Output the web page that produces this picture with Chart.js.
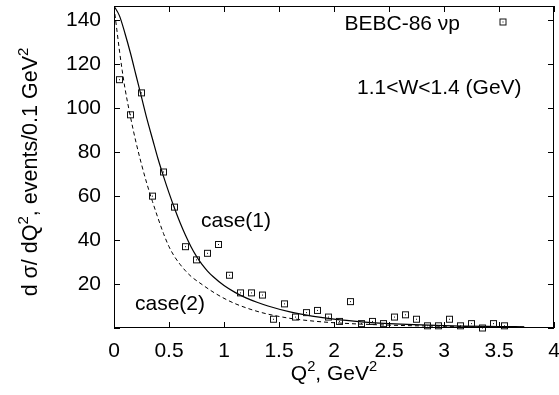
<!DOCTYPE html>
<html>
<head>
<meta charset="utf-8">
<script src="https://cdn.jsdelivr.net/npm/chart.js@4.4.1/dist/chart.umd.min.js"></script>
<style>
  html, body { margin: 0; padding: 0; background: #fff; }
  #wrap { width: 559px; height: 395px; }
</style>
</head>
<body>
<div id="wrap"><canvas id="chart" width="559" height="395"></canvas></div>
<script>
// BEBC-86 data, events per 0.1 GeV^2 bin (bin centres)
const q2Bins = [0.05, 0.15, 0.25, 0.35, 0.45, 0.55, 0.65, 0.75, 0.85, 0.95,
                1.05, 1.15, 1.25, 1.35, 1.45, 1.55, 1.65, 1.75, 1.85, 1.95,
                2.05, 2.15, 2.25, 2.35, 2.45, 2.55, 2.65, 2.75, 2.85, 2.95,
                3.05, 3.15, 3.25, 3.35, 3.45, 3.55];
const events = [113, 97, 107, 60, 71, 55, 37, 31, 34, 38,
                24, 16, 16, 15, 4, 11, 5, 7, 8, 5,
                3, 12, 2, 3, 2, 5, 6, 4, 1, 1,
                4, 1, 2, 0, 2, 1];

// model curves
const case1Q2 = [0, 0.05, 0.1, 0.15, 0.2, 0.25, 0.3, 0.35, 0.4, 0.45, 0.5, 0.55, 0.6, 0.65, 0.7, 0.75,
                 0.8, 0.85, 0.9, 1.0, 1.1, 1.2, 1.3, 1.4, 1.6, 1.8, 2.0, 2.25, 2.5, 3.0, 3.5, 3.73];
const case1 = [146.5, 142, 134, 125, 115, 105, 95, 86, 77, 69, 61.5, 54.5, 48, 42.2, 37, 32.6,
               28.9, 25.9, 23.4, 19.3, 16.2, 13.7, 11.7, 10, 7.3, 5.4, 4, 2.8, 2, 1.1, 0.68, 0.55];
const case2Q2 = [0, 0.025, 0.05, 0.075, 0.1, 0.15, 0.2, 0.25, 0.3, 0.35, 0.4, 0.45, 0.5, 0.55, 0.6,
                 0.65, 0.7, 0.8, 0.9, 1.0, 1.1, 1.2, 1.3, 1.4, 1.6, 1.8, 2.0, 2.5, 3.0, 3.5, 3.73];
const case2 = [146, 136, 126, 117, 109, 96, 84.5, 74.5, 65.5, 57.5, 50, 43, 37, 32.5, 29,
               26, 23.5, 19.8, 16.4, 13.5, 11.1, 9.2, 7.6, 6.3, 4.4, 3.2, 2.4, 1.3, 0.8, 0.5, 0.4];

const xTicks = [0, 0.5, 1, 1.5, 2, 2.5, 3, 3.5, 4];
const xTickLabels = ['0', '0.5', '1', '1.5', '2', '2.5', '3', '3.5', '4'];
const yTicks = [0, 20, 40, 60, 80, 100, 120, 140];
const yTickLabels = ['', '20', '40', '60', '80', '100', '120', '140'];

const FONT = "'Liberation Sans', Arial, Helvetica, sans-serif";

// little square with a dot, like the gnuplot points
function boxDot() {
  const c = document.createElement('canvas');
  c.width = 9; c.height = 9;
  const g = c.getContext('2d');
  g.strokeStyle = '#111';
  g.lineWidth = 1;
  g.strokeRect(1.5, 1.5, 6, 6);
  g.fillStyle = '#111';
  g.fillRect(4, 4, 1, 1);
  return c;
}
const marker = boxDot();

function pairs(xs, ys) {
  return xs.map((v, i) => ({ x: v, y: ys[i] }));
}

// text with superscript parts: [['Q'], ['2', true], ...]
function partsWidth(ctx, parts, size) {
  let w = 0;
  parts.forEach(p => {
    ctx.font = (p[1] ? size * 0.7 : size) + 'px ' + FONT;
    w += ctx.measureText(p[0]).width;
  });
  return w;
}
function drawParts(ctx, parts, x, y, size) {
  ctx.textAlign = 'left';
  ctx.textBaseline = 'alphabetic';
  parts.forEach(p => {
    ctx.font = (p[1] ? size * 0.7 : size) + 'px ' + FONT;
    ctx.fillText(p[0], x, p[1] ? y - size * 0.42 : y);
    x += ctx.measureText(p[0]).width;
  });
}

const framePlugin = {
  id: 'frame',
  afterDraw(chart) {
    const { ctx, chartArea: a, scales: { x, y } } = chart;
    ctx.save();
    ctx.strokeStyle = '#000';
    ctx.lineWidth = 1;
    ctx.strokeRect(a.left + 0.5, a.top + 0.5, a.right - a.left - 1, a.bottom - a.top - 1);
    ctx.beginPath();
    const tl = 6;
    xTicks.forEach(v => {
      const px = Math.round(x.getPixelForValue(v)) + 0.5;
      ctx.moveTo(px, a.bottom); ctx.lineTo(px, a.bottom - tl);
      ctx.moveTo(px, a.top); ctx.lineTo(px, a.top + tl);
    });
    yTicks.forEach(v => {
      const py = Math.round(y.getPixelForValue(v)) + 0.5;
      ctx.moveTo(a.left, py); ctx.lineTo(a.left + tl, py);
      ctx.moveTo(a.right, py); ctx.lineTo(a.right - tl, py);
    });
    ctx.stroke();

    ctx.fillStyle = '#000';
    const size = 21;
    // x title
    const xt = [['Q'], ['2', true], [', GeV'], ['2', true]];
    const cx = (a.left + a.right) / 2;
    drawParts(ctx, xt, cx - partsWidth(ctx, xt, size) / 2, 380, size);
    // y title
    const yt = [['d \u03c3/ dQ'], ['2', true], [', events/0.1 GeV'], ['2', true]];
    ctx.save();
    ctx.translate(37, 172);
    ctx.rotate(-Math.PI / 2);
    drawParts(ctx, yt, -partsWidth(ctx, yt, 21.5) / 2, 0, 21.5);
    ctx.restore();

    // key and notes
    ctx.font = size + 'px ' + FONT;
    ctx.textAlign = 'right';
    ctx.fillText('BEBC-86 \u03bdp', 460, 30);
    ctx.drawImage(marker, 503 - 4.5, 22 - 4.5);
    ctx.textAlign = 'left';
    ctx.fillText('1.1<W<1.4 (GeV)', 357, 94);
    ctx.fillText('case(1)', 201, 227);
    ctx.fillText('case(2)', 135, 310);
    ctx.restore();
  }
};

new Chart(document.getElementById('chart'), {
  type: 'scatter',
  data: {
    datasets: [
      {
        label: 'BEBC-86 \u03bdp',
        data: pairs(q2Bins, events),
        pointStyle: marker,
        pointRadius: 4,
        showLine: false,
        clip: false
      },
      {
        label: 'case(1)',
        data: pairs(case1Q2, case1),
        showLine: true,
        borderColor: '#000',
        borderWidth: 1.2,
        pointRadius: 0,
        cubicInterpolationMode: 'monotone'
      },
      {
        label: 'case(2)',
        data: pairs(case2Q2, case2),
        showLine: true,
        borderColor: '#000',
        borderWidth: 1,
        borderDash: [4, 3],
        pointRadius: 0,
        cubicInterpolationMode: 'monotone'
      }
    ]
  },
  options: {
    responsive: false,
    animation: false,
    layout: { padding: { left: 0, right: 3, top: 6, bottom: 0 } },
    plugins: { legend: { display: false }, tooltip: { enabled: false } },
    scales: {
      x: {
        type: 'linear',
        min: 0,
        max: 4,
        grid: { display: false, drawTicks: false },
        border: { display: false },
        afterBuildTicks: s => { s.ticks = xTicks.map(v => ({ value: v })); },
        afterFit: s => { s.height = 67; s.paddingLeft = 0; s.paddingRight = 0; },
        ticks: {
          color: '#000',
          font: { family: FONT, size: 21 },
          padding: 11,
          maxRotation: 0,
          autoSkip: false,
          callback: (v, i) => xTickLabels[i]
        }
      },
      y: {
        type: 'linear',
        min: 0,
        max: 146.5,
        grid: { display: false, drawTicks: false },
        border: { display: false },
        afterBuildTicks: s => { s.ticks = yTicks.map(v => ({ value: v })); },
        afterFit: s => { s.width = 114; s.paddingTop = 0; s.paddingBottom = 0; },
        ticks: {
          color: '#000',
          font: { family: FONT, size: 21 },
          padding: 13,
          autoSkip: false,
          callback: (v, i) => yTickLabels[i]
        }
      }
    }
  },
  plugins: [framePlugin]
});
</script>
</body>
</html>
